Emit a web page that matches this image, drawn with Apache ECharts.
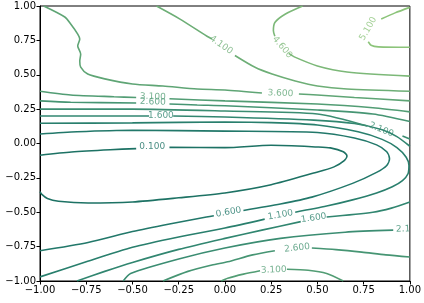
<!DOCTYPE html>
<html>
<head>
<meta charset="utf-8">
<script src="https://cdn.jsdelivr.net/npm/echarts@6/dist/echarts.min.js"></script>
<style>
  html, body { margin: 0; padding: 0; background: #fff; }
  #chart { width: 424px; height: 303px; }
</style>
</head>
<body>
<div id="chart"></div>
<script>
// contour levels
const levels = [0.1, 0.6, 1.1, 1.6, 2.1, 2.6, 3.1, 3.6, 4.1, 4.6, 5.1]

// contour paths, [x, y] in data units, split where a label sits
const c010a = [[-1, -0.085], [-0.83, -0.062], [-0.62, -0.045], [-0.48, -0.037]]
const c010b = [[-0.3, -0.028], [0, -0.03], [0.25, -0.013], [0.5, -0.025], [0.57, -0.032], [0.64, -0.06], [0.66, -0.09], [0.645, -0.125], [0.59, -0.17], [0.48, -0.215], [0.25, -0.3], [0, -0.36], [-0.25, -0.395], [-0.5, -0.425], [-0.74, -0.433], [-0.9, -0.42], [-0.96, -0.4], [-0.99, -0.37], [-1, -0.35]]

const c060a = [[-1, -0.78], [-0.74, -0.72], [-0.5, -0.64], [-0.3, -0.585], [-0.1, -0.535], [-0.06, -0.525]]
const c060b = [[0.1, -0.487], [0.3, -0.44], [0.47, -0.39], [0.69, -0.29], [0.82, -0.21], [0.875, -0.16], [0.89, -0.11], [0.875, -0.06], [0.82, -0.01], [0.7, 0.04], [0.5, 0.08], [0, 0.09], [-0.5, 0.096], [-0.8, 0.085], [-1, 0.069]]

const c110a = [[-1, -0.97], [-0.75, -0.86], [-0.5, -0.755], [-0.25, -0.68], [0, -0.615], [0.215, -0.55]]
const c110b = [[0.38, -0.5], [0.55, -0.455], [0.69, -0.41], [0.82, -0.36], [0.905, -0.315], [0.96, -0.27], [0.99, -0.22], [0.995, -0.16], [0.98, -0.1], [0.93, -0.03], [0.85, 0.03], [0.72, 0.085], [0.5, 0.135], [0.25, 0.152], [0, 0.156], [-0.5, 0.15], [-1, 0.147]]

const c160a = [[-0.8, -1], [-0.65, -0.93], [-0.5, -0.865], [-0.25, -0.77], [0, -0.69], [0.2, -0.63], [0.41, -0.568]]
const c160b = [[0.55, -0.535], [0.8, -0.5], [0.9, -0.47], [1, -0.425]]
const c160c = [[1, -0.02], [0.93, 0.05], [0.85, 0.1], [0.7, 0.145], [0.48, 0.17], [0, 0.193], [-0.28, 0.2]]
const c160d = [[-0.41, 0.2], [-1, 0.2]]

const c210a = [[-0.55, -1], [-0.51, -0.945], [-0.25, -0.84], [0, -0.76], [0.3, -0.69], [0.65, -0.645], [0.91, -0.63]]
const c210b = [[1, 0.033], [0.96, 0.055]]
const c210c = [[0.77, 0.127], [0.5, 0.215], [0, 0.236], [-0.5, 0.25], [-1, 0.25]]

const c260a = [[-0.335, -1], [-0.2, -0.93], [-0.07, -0.884], [0.015, -0.86], [0.15, -0.81], [0.27, -0.78]]
const c260b = [[0.47, -0.76], [0.6, -0.772], [0.74, -0.79], [0.87, -0.81], [1, -0.825]]
const c260c = [[1, 0.16], [0.8, 0.215], [0.5, 0.244], [0, 0.275], [-0.15, 0.28], [-0.3, 0.287]]
const c260d = [[-0.48, 0.295], [-0.834, 0.3], [-1, 0.31]]

const c310a = [[-1, 0.38], [-0.834, 0.353], [-0.6, 0.34], [-0.48, 0.335]]
const c310b = [[-0.3, 0.325], [0, 0.31], [0.5, 0.287], [0.8, 0.26], [1, 0.23]]
const c310c = [[-0.02, -1], [0.015, -0.98], [0.1, -0.95], [0.19, -0.925]]
const c310d = [[0.335, -0.915], [0.45, -0.922], [0.55, -0.945], [0.64, -1]]

const c360a = [[-0.98, 1], [-0.866, 0.92], [-0.834, 0.869], [-0.796, 0.796], [-0.785, 0.76], [-0.796, 0.71], [-0.78, 0.65], [-0.785, 0.6], [-0.78, 0.556], [-0.742, 0.505], [-0.65, 0.47], [-0.5, 0.433], [-0.335, 0.418], [-0.15, 0.396], [0, 0.389], [0.2, 0.367]]
const c360b = [[0.4, 0.36], [0.5, 0.353], [0.7, 0.335], [1, 0.31]]

const c410a = [[-0.37, 1], [-0.243, 0.905], [-0.097, 0.78], [-0.07, 0.76]]
const c410b = [[0.054, 0.64], [0.16, 0.556], [0.255, 0.505], [0.38, 0.455], [0.5, 0.418], [0.66, 0.396], [1, 0.38]]

const c460a = [[0.42, 1], [0.325, 0.94], [0.27, 0.88], [0.262, 0.82], [0.27, 0.78]]
const c460b = [[0.345, 0.655], [0.375, 0.63], [0.5, 0.564], [0.66, 0.52], [1, 0.49]]

const c510a = [[1, 0.7], [0.83, 0.703], [0.79, 0.715], [0.775, 0.74]]
const c510b = [[0.845, 0.905], [0.92, 0.95], [1, 0.99]]

// inline labels: [x, y, text]
const labelPts = [
  [-0.393, -0.025, '0.100'],
  [0.02, -0.5, '0.600'],
  [0.3, -0.52, '1.100'],
  [0.48, -0.542, '1.600'],
  [-0.346, 0.205, '1.600'],
  [0.845, 0.1, '2.100'],
  [0.925, -0.625, '2.1'],
  [0.39, -0.76, '2.600'],
  [-0.39, 0.302, '2.600'],
  [-0.39, 0.34, '3.100'],
  [0.264, -0.92, '3.100'],
  [0.3, 0.365, '3.600'],
  [-0.02, 0.716, '4.100'],
  [0.31, 0.7, '4.600'],
  [0.775, 0.835, '5.100']
]
const labelLevel = [0, 1, 2, 3, 3, 4, 4, 5, 5, 6, 6, 7, 8, 9, 10]
const labelRotate = [0, 10, 10, 8, 0, -22, 2, 6, -2, -2, 2, -2, -35, -50, 60]

const paths = [
  [0, c010a], [0, c010b],
  [1, c060a], [1, c060b],
  [2, c110a], [2, c110b],
  [3, c160a], [3, c160b], [3, c160c], [3, c160d],
  [4, c210a], [4, c210b], [4, c210c],
  [5, c260a], [5, c260b], [5, c260c], [5, c260d],
  [6, c310a], [6, c310b], [6, c310c], [6, c310d],
  [7, c360a], [7, c360b],
  [8, c410a], [8, c410b],
  [9, c460a], [9, c460b],
  [10, c510a], [10, c510b]
]

const colors = ['#1d7264', '#22786a', '#297f6d', '#318670', '#3b8d72', '#469573', '#529d74', '#5fa575', '#6dae76', '#7cb878', '#8cc47a']

const chart = echarts.init(document.getElementById('chart'))

const series = paths.map(([lv, pts]) => ({
  type: 'line',
  data: pts,
  showSymbol: false,
  smooth: 0.25,
  silent: true,
  lineStyle: { color: colors[lv], width: 1.6 }
}))

series.push({
  type: 'scatter',
  symbolSize: 0,
  silent: true,
  clip: false,
  data: labelPts.map((p, i) => ({
    value: [p[0], p[1]],
    label: {
      show: true,
      position: 'inside',
      formatter: p[2],
      rotate: labelRotate[i],
      color: colors[labelLevel[i]],
      align: p[2] === '2.1' ? 'left' : 'center',
      fontSize: 9,
      fontFamily: 'DejaVu Sans'
    }
  }))
})

const axisText = { color: '#000', fontSize: 10, fontFamily: 'DejaVu Sans' }
const fmt = v => (v < 0 ? '\u2212' : '') + Math.abs(v).toFixed(2)

chart.setOption({
  animation: false,
  grid: { left: 40, right: 14, top: 6, bottom: 22, show: true, borderColor: '#000', borderWidth: 1 },
  xAxis: {
    type: 'value',
    min: -1,
    max: 1,
    interval: 0.25,
    axisLine: { show: true, onZero: false, lineStyle: { color: '#000' } },
    axisTick: { show: true, length: 3.5, lineStyle: { color: '#000' } },
    axisLabel: { ...axisText, margin: 4, formatter: fmt },
    splitLine: { show: false }
  },
  yAxis: {
    type: 'value',
    min: -1,
    max: 1,
    interval: 0.25,
    axisLine: { show: true, onZero: false, lineStyle: { color: '#000' } },
    axisTick: { show: true, length: 3.5, lineStyle: { color: '#000' } },
    axisLabel: { ...axisText, margin: 4, formatter: fmt },
    splitLine: { show: false }
  },
  series
})
</script>
</body>
</html>
